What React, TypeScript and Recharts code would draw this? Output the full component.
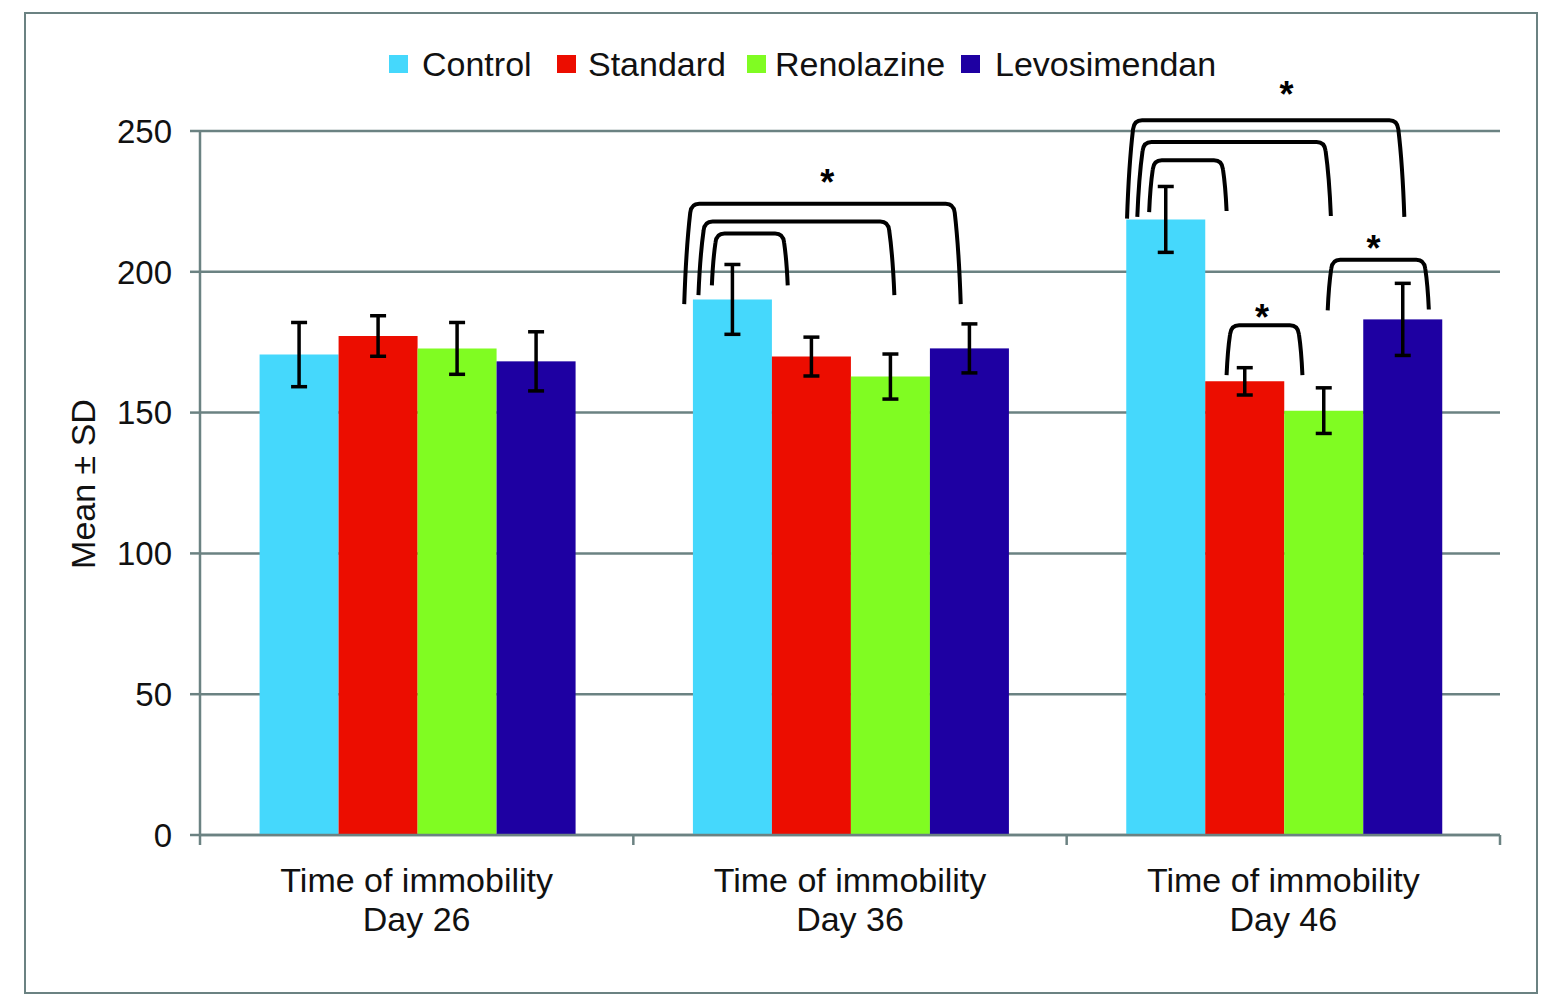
import React from 'react';
import { BarChart, Bar, XAxis, YAxis, CartesianGrid, ErrorBar, Label } from 'recharts';

// ---------- data ----------
const categories = ['Day 26', 'Day 36', 'Day 46'];
const axisTitle = 'Time of immobility';
const yLabel = 'Mean ± SD';

const controlMean = [170.6, 190.2, 218.6];
const controlSd = [11.4, 12.4, 11.7];
const standardMean = [177.2, 169.9, 161.1];
const standardSd = [7.2, 6.9, 4.85];
const renolazineMean = [172.8, 162.8, 150.7];
const renolazineSd = [9.2, 8.0, 8.1];
const levosimendanMean = [168.2, 172.8, 183.1];
const levosimendanSd = [10.5, 8.7, 12.8];

const yTicks = [0, 50, 100, 150, 200, 250];

const seriesNames = ['Control', 'Standard', 'Renolazine', 'Levosimendan'];
const seriesKeys = ['control', 'standard', 'renolazine', 'levosimendan'];
const seriesColors = ['#45d8fc', '#ec0d00', '#80fc22', '#1e00a2'];

// significance brackets: bar index + fraction along bar, values in data units
const brackets = [
  { day: 'Day 36', from: 0, fromPos: 0.24, to: 1, toPos: 0.2, top: 213.6, fromEnd: 195.2, toEnd: 195.2 },
  { day: 'Day 36', from: 0, fromPos: 0.07, to: 2, toPos: 0.55, top: 217.9, fromEnd: 191.7, toEnd: 191.7 },
  { day: 'Day 36', from: 0, fromPos: -0.11, to: 3, toPos: 0.39, top: 224.2, fromEnd: 188.5, toEnd: 188.5 },
  { day: 'Day 46', from: 0, fromPos: 0.29, to: 1, toPos: 0.27, top: 239.6, fromEnd: 221.2, toEnd: 221.6 },
  { day: 'Day 46', from: 0, fromPos: 0.14, to: 2, toPos: 0.59, top: 246.1, fromEnd: 219.5, toEnd: 219.8 },
  { day: 'Day 46', from: 0, fromPos: 0.01, to: 3, toPos: 0.52, top: 253.8, fromEnd: 218.9, toEnd: 219.5 },
  { day: 'Day 46', from: 1, fromPos: 0.27, to: 2, toPos: 0.23, top: 181.0, fromEnd: 163.3, toEnd: 163.3 },
  { day: 'Day 46', from: 2, fromPos: 0.55, to: 3, toPos: 0.83, top: 204.3, fromEnd: 186.3, toEnd: 186.6 },
];
const stars = [
  { day: 'Day 36', bar: 2, pos: -0.3, value: 234.3 },
  { day: 'Day 46', bar: 2, pos: 0.03, value: 265.6 },
  { day: 'Day 46', bar: 1, pos: 0.72, value: 186.3 },
  { day: 'Day 46', bar: 3, pos: 0.13, value: 210.9 },
];

const data = categories.map((day, i) => ({
  day,
  control: controlMean[i],
  controlSd: controlSd[i],
  standard: standardMean[i],
  standardSd: standardSd[i],
  renolazine: renolazineMean[i],
  renolazineSd: renolazineSd[i],
  levosimendan: levosimendanMean[i],
  levosimendanSd: levosimendanSd[i],
}));

// ---------- styles ----------
const AXIS = '#6b8282';
const FONT = '"Liberation Sans", Arial, Helvetica, sans-serif';

function bracketPath(x1: number, y1: number, x2: number, y2: number, top: number) {
  const h = Math.max(y1, y2) - top;
  const lean = Math.min(6, h * 0.07);
  const r = 9;
  return [
    `M ${x1} ${y1}`,
    `Q ${x1 + lean * 0.3} ${top + r + (y1 - top - r) * 0.4} ${x1 + lean} ${top + r}`,
    `Q ${x1 + lean + 1} ${top} ${x1 + lean + r} ${top}`,
    `L ${x2 - lean - r} ${top}`,
    `Q ${x2 - lean - 1} ${top} ${x2 - lean} ${top + r}`,
    `Q ${x2 - lean * 0.3} ${top + r + (y2 - top - r) * 0.4} ${x2} ${y2}`,
  ].join(' ');
}

// last series' bar shape also draws the significance annotations for its category
const LevoShape = (props: any) => {
  const { x, y, width, height, fill, payload } = props;
  const base = y + height;
  const ppu = height / payload.levosimendan;
  const toY = (v: number) => base - v * ppu;
  const barX = (k: number, f: number) => x - (3 - k) * width + f * width;
  const myBrackets = brackets.filter((b) => b.day === payload.day);
  const myStars = stars.filter((s) => s.day === payload.day);
  return (
    <g>
      <rect x={x} y={y} width={width} height={height} fill={fill} />
      {myBrackets.map((b, i) => (
        <path
          key={'b' + i}
          d={bracketPath(barX(b.from, b.fromPos), toY(b.fromEnd), barX(b.to, b.toPos), toY(b.toEnd), toY(b.top))}
          fill="none"
          stroke="#000"
          strokeWidth={4}
          strokeLinecap="butt"
        />
      ))}
      {myStars.map((s, i) => (
        <text
          key={'s' + i}
          x={barX(s.bar, s.pos)}
          y={toY(s.value) + 20}
          textAnchor="middle"
          fontSize={36}
          fontWeight="bold"
          fontFamily={FONT}
          fill="#000"
        >
          *
        </text>
      ))}
    </g>
  );
};

// category tick: label at band centre, tick marks at band boundaries
const CategoryTick = (props: any) => {
  const { x, y, payload, index, width, visibleTicksCount } = props;
  const count = visibleTicksCount || categories.length;
  const half = typeof width === 'number' && width > 0 ? width / count / 2 : 1300 / categories.length / 2;
  const i = typeof index === 'number' ? index : categories.indexOf(payload.value);
  return (
    <g>
      <line x1={x - half} y1={y} x2={x - half} y2={y + 10} stroke={AXIS} strokeWidth={2.5} />
      {i === count - 1 && <line x1={x + half} y1={y} x2={x + half} y2={y + 10} stroke={AXIS} strokeWidth={2.5} />}
      <text textAnchor="middle" fontSize={34} fill="#111" fontFamily={FONT}>
        <tspan x={x} y={y + 57}>{axisTitle}</tspan>
        <tspan x={x} y={y + 96}>{payload.value}</tspan>
      </text>
    </g>
  );
};

const YLabel = (props: any) => {
  const vb = props.viewBox || { x: 0, y: 131, width: 200, height: 704 };
  const x = vb.x + 95;
  const cy = vb.y + vb.height / 2 + 1;
  return (
    <text x={x} y={cy} transform={`rotate(-90 ${x} ${cy})`} textAnchor="middle" fontSize={34} fill="#111" fontFamily={FONT}>
      {yLabel}
    </text>
  );
};

const legendSquareX = [389, 557, 747, 961];
const legendTextX = [422, 588, 775, 995];

export default function App() {
  return (
    <div style={{ position: 'absolute', left: 0, top: 0, width: 1552, height: 1006, background: '#fff', fontFamily: FONT }}>
      <div
        style={{
          position: 'absolute',
          left: 24,
          top: 12,
          width: 1514,
          height: 982,
          border: `2px solid ${AXIS}`,
          boxSizing: 'border-box',
        }}
      />
      <svg width={1552} height={120} style={{ position: 'absolute', left: 0, top: 0 }}>
        {seriesNames.map((n, i) => (
          <g key={n}>
            <rect x={legendSquareX[i]} y={55} width={19} height={18} fill={seriesColors[i]} />
            <text x={legendTextX[i]} y={76} fontSize={34} fill="#111" fontFamily={FONT}>
              {n}
            </text>
          </g>
        ))}
      </svg>
      <div style={{ position: 'absolute', left: 0, top: 0 }}>
        <BarChart
          width={1552}
          height={1006}
          data={data}
          margin={{ top: 131, right: 52, bottom: 50, left: 0 }}
          barCategoryGap="13.75%"
          barGap={0}
        >
          <CartesianGrid vertical={false} stroke={AXIS} strokeWidth={2.5} />
          <XAxis
            dataKey="day"
            type="category"
            interval={0}
            height={121}
            tickLine={false}
            tickSize={0}
            tickMargin={0}
            tick={<CategoryTick />}
            axisLine={{ stroke: AXIS, strokeWidth: 2.5 }}
          />
          <YAxis
            width={200}
            domain={[0, 250]}
            ticks={yTicks}
            interval={0}
            tickSize={10}
            tickMargin={18}
            axisLine={{ stroke: AXIS, strokeWidth: 2.5 }}
            tickLine={{ stroke: AXIS, strokeWidth: 2.5 }}
            tick={{ fontSize: 33, fill: '#111', fontFamily: FONT }}
          >
            <Label content={<YLabel />} />
          </YAxis>
          {seriesKeys.map((k, i) => (
            <Bar
              key={k}
              dataKey={k}
              name={seriesNames[i]}
              fill={seriesColors[i]}
              isAnimationActive={false}
              shape={k === 'levosimendan' ? <LevoShape /> : undefined}
            >
              <ErrorBar dataKey={k + 'Sd'} width={8} stroke="#000" strokeWidth={3.5} />
            </Bar>
          ))}
        </BarChart>
      </div>
    </div>
  );
}
